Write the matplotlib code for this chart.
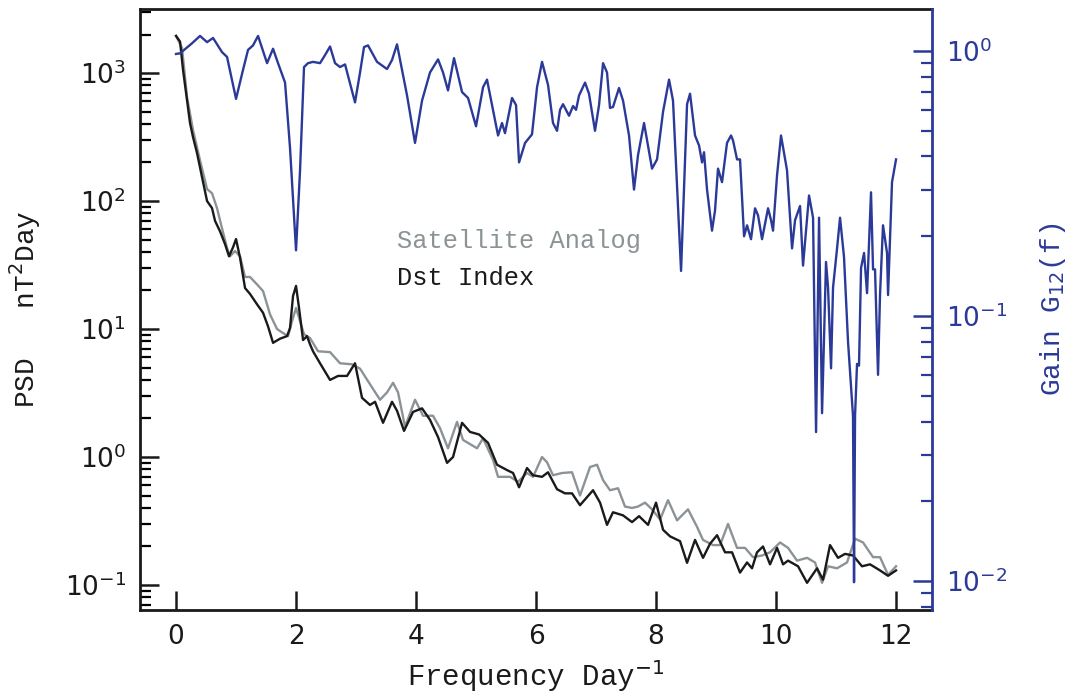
import numpy as np
import matplotlib
matplotlib.use('Agg')
import matplotlib.pyplot as plt

# Dst index PSD (black)
dst_freq = [0.0, 0.067, 0.117, 0.183, 0.233, 0.283, 0.35, 0.433, 0.517, 0.60, 0.65, 0.733, 0.817,
            0.883, 0.95, 1.0, 1.067, 1.15, 1.233, 1.35, 1.45, 1.533, 1.617, 1.733, 1.85, 1.90,
            1.95, 2.0, 2.05, 2.117, 2.183, 2.233, 2.283, 2.40, 2.567, 2.70, 2.85, 2.983, 3.10,
            3.233, 3.317, 3.45, 3.60, 3.683, 3.80, 3.95, 4.10, 4.233, 4.367, 4.517, 4.617, 4.767,
            4.90, 5.05, 5.20, 5.35, 5.517, 5.617, 5.717, 5.85, 5.95, 6.10, 6.20, 6.35, 6.483,
            6.60, 6.733, 6.95, 7.067, 7.183, 7.283, 7.45, 7.60, 7.717, 7.867, 8.0, 8.117, 8.233,
            8.40, 8.517, 8.65, 8.783, 8.90, 9.017, 9.15, 9.267, 9.40, 9.517, 9.60, 9.683, 9.783,
            9.90, 10.017, 10.117, 10.20, 10.367, 10.517, 10.683, 10.783, 10.90, 11.033, 11.15,
            11.283, 11.433, 11.567, 11.733, 11.867, 12.0]
dst_psd = [1950, 1760, 1055, 615, 407, 316, 237, 154, 100, 88, 70, 58, 46,
           37, 43.5, 50.5, 36, 20.9, 18.8, 15.6, 13.4, 10.5, 7.8, 8.4, 8.8, 10.2,
           18.1, 21.7, 14.6, 8.2, 8.8, 7.6, 6.7, 5.4, 4.0, 4.3, 4.3, 5.4, 2.9,
           2.55, 2.7, 1.85, 2.7, 2.3, 1.6, 2.25, 2.4, 1.95, 1.43, 0.90, 1.0, 1.85,
           1.57, 1.5, 1.29, 0.87, 0.79, 0.75, 0.58, 0.82, 0.72, 0.70, 0.76, 0.56, 0.52,
           0.52, 0.42, 0.55, 0.44, 0.295, 0.37, 0.35, 0.31, 0.345, 0.295, 0.44, 0.27, 0.24,
           0.22, 0.149, 0.225, 0.163, 0.21, 0.245, 0.18, 0.18, 0.125, 0.15, 0.135, 0.18, 0.20,
           0.145, 0.195, 0.145, 0.155, 0.14, 0.104, 0.135, 0.11, 0.205, 0.163, 0.175,
           0.17, 0.14, 0.145, 0.13, 0.118, 0.13]

# Satellite analog PSD (gray)
sat_freq = [0.0, 0.10, 0.183, 0.283, 0.40, 0.517, 0.60, 0.683, 0.767, 0.85, 0.90, 0.983, 1.067,
            1.15, 1.233, 1.35, 1.45, 1.567, 1.683, 1.783, 1.867, 1.933, 2.0, 2.067, 2.133,
            2.233, 2.367, 2.567, 2.733, 2.933, 3.067, 3.233, 3.40, 3.517, 3.617, 3.70, 3.817,
            3.983, 4.117, 4.283, 4.40, 4.533, 4.683, 4.783, 5.017, 5.117, 5.283, 5.367, 5.567,
            5.70, 5.85, 5.95, 6.10, 6.183, 6.283, 6.433, 6.60, 6.733, 6.90, 7.017, 7.117, 7.233,
            7.367, 7.483, 7.60, 7.70, 7.817, 7.933, 8.067, 8.20, 8.35, 8.533, 8.683, 8.783, 8.95,
            9.067, 9.20, 9.35, 9.483, 9.617, 9.767, 9.90, 10.067, 10.20, 10.35, 10.517, 10.65,
            10.767, 10.867, 11.017, 11.183, 11.317, 11.45, 11.617, 11.733, 11.867, 12.0]
sat_psd = [1950, 1570, 650, 358, 208, 124, 115, 88, 61, 43, 37, 40.7, 37,
           25.5, 25.5, 22.3, 19.8, 13, 10, 9.3, 8.8, 11.5, 14.6, 11.5, 9.1,
           8.5, 6.7, 6.6, 5.4, 5.3, 4.9, 3.7, 2.8, 3.2, 3.8, 3.2, 1.72,
           2.8, 2.1, 2.1, 1.68, 1.17, 1.88, 1.36, 1.17, 1.4, 0.95, 0.70, 0.70,
           0.64, 0.75, 0.70, 1.0, 0.91, 0.72, 0.75, 0.76, 0.50, 0.835, 0.87, 0.66, 0.55,
           0.57, 0.41, 0.40, 0.41, 0.44, 0.39, 0.325, 0.46, 0.32, 0.39, 0.285, 0.225, 0.205,
           0.205, 0.30, 0.195, 0.195, 0.165, 0.17, 0.18, 0.215, 0.195, 0.155, 0.163, 0.15,
           0.104, 0.14, 0.135, 0.15, 0.23, 0.215, 0.165, 0.165, 0.12, 0.14]

# Gain G12(f) (blue, right axis)
gain_freq = [0.0, 0.067, 0.267, 0.40, 0.517, 0.617, 0.767, 0.85, 1.0, 1.117, 1.20, 1.283, 1.367,
             1.517, 1.617, 1.70, 1.817, 1.90, 2.0, 2.067, 2.133, 2.20, 2.283, 2.40, 2.483, 2.567,
             2.65, 2.733, 2.817, 2.983, 3.067, 3.133, 3.20, 3.35, 3.517, 3.60, 3.683, 3.85, 3.983,
             4.10, 4.233, 4.367, 4.45, 4.533, 4.633, 4.767, 4.867, 5.0, 5.117, 5.183, 5.283,
             5.367, 5.433, 5.483, 5.60, 5.667, 5.717, 5.817, 5.933, 6.017, 6.10, 6.20, 6.283,
             6.35, 6.40, 6.45, 6.55, 6.617, 6.667, 6.717, 6.817, 6.883, 6.983, 7.05, 7.117,
             7.183, 7.233, 7.283, 7.383, 7.45, 7.55, 7.633, 7.70, 7.80, 7.933, 8.017, 8.117,
             8.217, 8.283, 8.417, 8.517, 8.567, 8.65, 8.717, 8.767, 8.80, 8.85, 8.933, 8.983,
             9.033, 9.10, 9.183, 9.25, 9.283, 9.35, 9.40, 9.467, 9.517, 9.583, 9.65, 9.70,
             9.767, 9.867, 9.917, 9.95, 10.017, 10.083, 10.183, 10.267, 10.317, 10.40, 10.45,
             10.55, 10.617, 10.667, 10.717, 10.767, 10.833, 10.867, 10.917, 10.95, 11.017,
             11.067, 11.133, 11.20, 11.283, 11.30, 11.317, 11.35, 11.383, 11.417, 11.467,
             11.517, 11.583, 11.617, 11.65, 11.70, 11.733, 11.783, 11.85, 11.867, 11.933, 12.0]
gain_val = [0.975, 0.98, 1.07, 1.14, 1.08, 1.12, 0.99, 0.95, 0.66, 0.85, 1.01, 1.05, 1.14,
            0.90, 1.02, 0.90, 0.76, 0.43, 0.177, 0.355, 0.87, 0.90, 0.91, 0.90, 0.965, 1.04,
            0.90, 0.87, 0.89, 0.64, 0.83, 1.035, 1.05, 0.91, 0.855, 0.925, 1.06, 0.68, 0.45,
            0.65, 0.83, 0.93, 0.83, 0.71, 0.94, 0.70, 0.665, 0.52, 0.73, 0.78, 0.60,
            0.48, 0.535, 0.49, 0.665, 0.625, 0.38, 0.45, 0.485, 0.73, 0.91, 0.745, 0.535,
            0.50, 0.60, 0.63, 0.57, 0.62, 0.60, 0.68, 0.76, 0.69, 0.50, 0.625, 0.90,
            0.83, 0.61, 0.615, 0.725, 0.65, 0.48, 0.30, 0.405, 0.535, 0.36, 0.39, 0.59,
            0.78, 0.65, 0.148, 0.63, 0.69, 0.48, 0.44, 0.38, 0.415, 0.30, 0.21, 0.25,
            0.36, 0.32, 0.45, 0.48, 0.46, 0.39, 0.39, 0.20, 0.22, 0.195, 0.255, 0.24,
            0.195, 0.255, 0.23, 0.21, 0.34, 0.48, 0.355, 0.18, 0.23, 0.26, 0.155,
            0.285, 0.235, 0.0365, 0.235, 0.043, 0.16, 0.128, 0.0635, 0.128, 0.18,
            0.235, 0.167, 0.08, 0.042, 0.0099, 0.042, 0.066, 0.065, 0.152, 0.173,
            0.122, 0.293, 0.15, 0.15, 0.06, 0.12, 0.22, 0.173, 0.12, 0.32, 0.39]

xticks = [0, 2, 4, 6, 8, 10, 12]

blue = '#2B3A98'
gray = '#8C9396'
black = '#1A1A1A'
label_font = ['Liberation Mono', 'DejaVu Sans Mono']

fig = plt.figure(figsize=(10.83, 6.96), dpi=100)
ax = fig.add_axes([0.1293, 0.1236, 0.7313, 0.8634])
ax2 = ax.twinx()

# PSD curves on the left axis
ax.plot(sat_freq, sat_psd, color=gray, lw=1.7)
ax.plot(dst_freq, dst_psd, color=black, lw=1.7)
ax.set_yscale('log')
ax.set_xlim(-0.6, 12.6)
ax.set_ylim(0.0638, 3162)
ax.set_xticks(xticks)
ax.set_xticklabels([str(t) for t in xticks])

# gain on the right axis
ax2.plot(gain_freq, gain_val, color=blue, lw=1.7)
ax2.set_yscale('log')
ax2.set_ylim(0.00778, 1.44)

# spines and ticks
for s in ['left', 'bottom', 'top']:
    ax.spines[s].set_linewidth(2)
    ax.spines[s].set_color(black)
ax.spines['right'].set_visible(False)
for s in ['left', 'bottom', 'top']:
    ax2.spines[s].set_visible(False)
ax2.spines['right'].set_color(blue)
ax2.spines['right'].set_linewidth(2)

ax.tick_params(axis='both', which='major', direction='in', length=14, width=1.8,
               labelsize=19, top=False, right=False, colors=black, pad=10)
ax.tick_params(axis='y', which='minor', direction='in', length=8, width=1.6, right=False)
ax.tick_params(axis='x', which='minor', bottom=False, top=False)
ax2.tick_params(axis='y', which='major', direction='in', length=14, width=1.8,
                labelsize=19, colors=blue, pad=10)
ax2.tick_params(axis='y', which='minor', direction='in', length=8, width=1.6, colors=blue)

# labels
ax.set_xlabel('Frequency Day$^{-1}$', fontsize=21, family=label_font,
              color=black, labelpad=6)
ax.set_ylabel('PSD   nT$^2$Day', fontsize=20, family=label_font,
              color=black, labelpad=16)
ax2.set_ylabel('Gain G$_{12}$(f)', fontsize=20, family=label_font,
               color=blue, labelpad=22)

# legend as text
ax.text(0.3245, 0.614, 'Satellite Analog', transform=ax.transAxes, fontsize=18.3,
        family=label_font, color=gray, va='center', ha='left')
ax.text(0.3245, 0.553, 'Dst Index', transform=ax.transAxes, fontsize=18.3,
        family=label_font, color=black, va='center', ha='left')

fig.savefig('out.png', dpi=100)
